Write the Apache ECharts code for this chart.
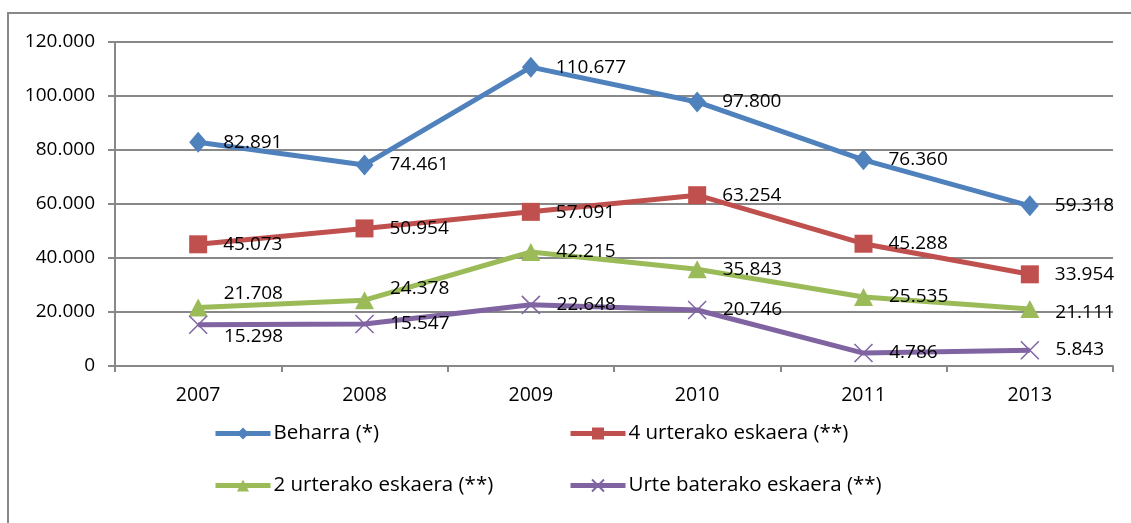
<!DOCTYPE html>
<html>
<head>
<meta charset="utf-8">
<script src="https://cdn.jsdelivr.net/npm/echarts@6/dist/echarts.min.js"></script>
<style>
  html, body { margin: 0; padding: 0; background: #fff; }
  #chart { width: 1131px; height: 523px; }
</style>
</head>
<body>
<div id="chart"></div>
<script>
  const years = ['2007', '2008', '2009', '2010', '2011', '2013']
  const seriesNames = ['Beharra (*)', '4 urterako eskaera (**)', '2 urterako eskaera (**)', 'Urte baterako eskaera (**)']
  const beharra = [82891, 74461, 110677, 97800, 76360, 59318]
  const urte4 = [45073, 50954, 57091, 63254, 45288, 33954]
  const urte2 = [21708, 24378, 42215, 35843, 25535, 21111]
  const urte1 = [15298, 15547, 22648, 20746, 4786, 5843]

  // vertical nudge of each data label (pixels), as placed in the original
  const labelShift = [
    [0, 0, 0, 0, 0, 0],
    [0, 0, 1, 0, 0, 0],
    [-14, -12, 0, 0, 0, 4],
    [12, 0, 0, 0, 0, -1]
  ]

  const colors = ['#4F81BD', '#C0504D', '#9BBB59', '#8064A2']
  const symbols = ['diamond', 'rect', 'triangle', 'path://M0,0L10,10M10,0L0,10']
  const symbolSizes = [[18, 21], 18, [19, 18], 18]
  const font = 'Open Sans'

  function fmt(v) {
    return String(v).replace(/\B(?=(\d{3})+(?!\d))/g, '.')
  }

  const chart = echarts.init(document.getElementById('chart'))

  const allData = [beharra, urte4, urte2, urte1]
  const series = allData.map((vals, i) => ({
    name: seriesNames[i],
    type: 'line',
    data: vals.map((v, j) => ({
      value: v,
      label: { offset: [0, labelShift[i][j]] }
    })),
    symbol: symbols[i],
    symbolSize: symbolSizes[i],
    showAllSymbol: true,
    lineStyle: { color: colors[i], width: 5 },
    itemStyle: i === 3
      ? { color: colors[i], borderColor: colors[i], borderWidth: 1.5 }
      : { color: colors[i] },
    label: {
      show: true,
      position: 'right',
      distance: 16,
      color: '#000',
      fontFamily: font,
      fontSize: 19,
      formatter: p => fmt(p.value)
    },
    emphasis: { disabled: true },
    animation: false
  }))

  const legendPos = [[213, 423], [568, 423], [213, 475], [568, 475]]
  const legends = seriesNames.map((n, i) => ({
    data: [n],
    left: legendPos[i][0],
    top: legendPos[i][1],
    padding: 0,
    itemWidth: 55,
    itemHeight: 15,
    selectedMode: false,
    lineStyle: { width: 5 },
    textStyle: { fontFamily: font, fontSize: 20.5, color: '#000', padding: [0, 0, 0, -2] }
  }))

  chart.setOption({
    animation: false,
    graphic: [{
      type: 'rect',
      shape: { x: 8, y: 13, width: 1300, height: 700 },
      style: { fill: 'none', stroke: '#888', lineWidth: 2 },
      silent: true
    }],
    legend: legends,
    grid: { left: 115, right: 18, top: 42, bottom: 157 },
    xAxis: {
      type: 'category',
      data: years,
      boundaryGap: true,
      axisLine: { lineStyle: { color: '#888', width: 2 } },
      axisTick: { show: true, length: 6, lineStyle: { color: '#888', width: 2 } },
      axisLabel: { color: '#000', fontFamily: font, fontSize: 19.5, margin: 19 }
    },
    yAxis: {
      type: 'value',
      min: 0,
      max: 120000,
      interval: 20000,
      axisLine: { show: true, lineStyle: { color: '#888', width: 2 } },
      axisTick: { show: true, length: 7, lineStyle: { color: '#888', width: 2 } },
      axisLabel: { color: '#000', fontFamily: font, fontSize: 19, margin: 20, formatter: v => fmt(v) },
      splitLine: { lineStyle: { color: '#888', width: 2 } }
    },
    series: series
  })
</script>
</body>
</html>
